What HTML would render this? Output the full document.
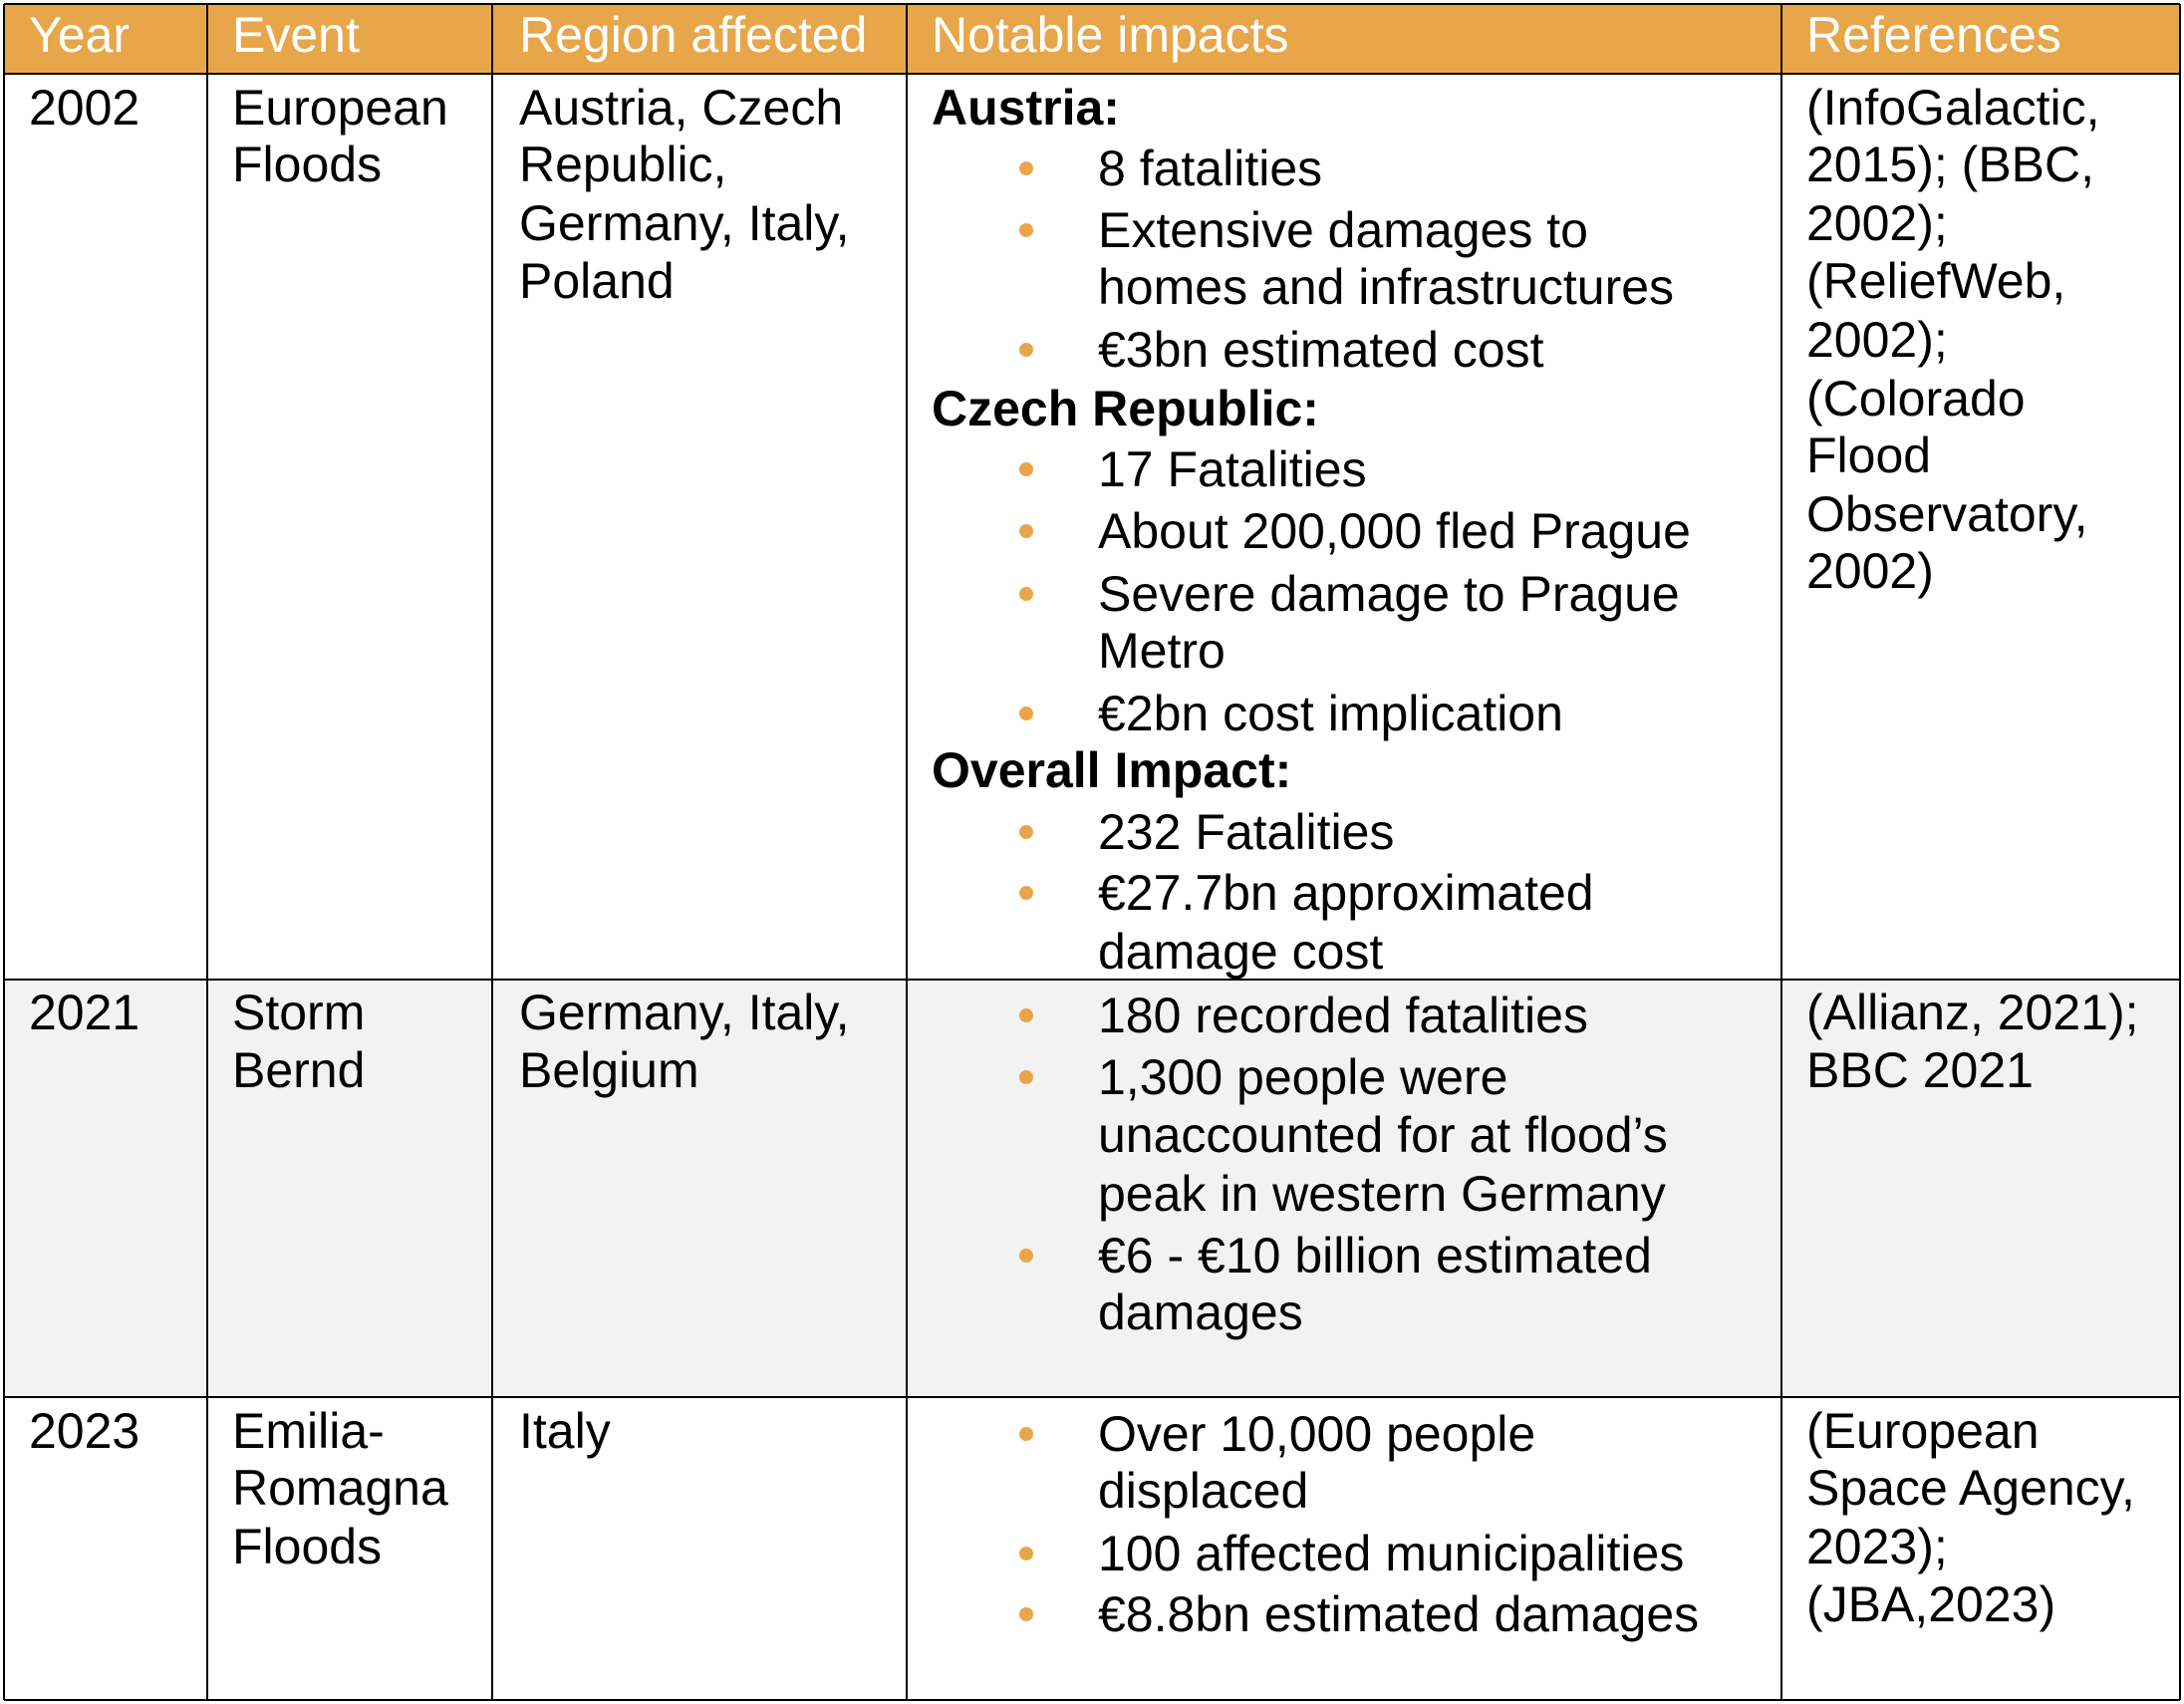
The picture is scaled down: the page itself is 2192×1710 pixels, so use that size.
<!DOCTYPE html>
<html><head><meta charset="utf-8"><style>
body{margin:0;width:2192px;height:1710px;background:#fff;position:relative;overflow:hidden;font-family:"Liberation Sans",Arial,sans-serif;font-size:50px;color:#000}
.l{position:absolute;line-height:58px;white-space:nowrap}
.b{font-weight:bold}
.h{color:#fff}
.d{position:absolute;width:14px;height:14px;border-radius:50%;background:#E8A64A}
.hl{position:absolute;left:4px;width:2184px;height:2px;background:#000}
.vl{position:absolute;top:4px;height:1702px;width:2px;background:#000}
</style></head><body>
<div style="position:absolute;left:4px;top:4px;width:2184px;height:70px;background:#E8A64A"></div>
<div style="position:absolute;left:4px;top:983px;width:2184px;height:419px;background:#F2F2F2"></div>
<div class="hl" style="top:3px"></div>
<div class="hl" style="top:73px"></div>
<div class="hl" style="top:982px"></div>
<div class="hl" style="top:1401px"></div>
<div class="hl" style="top:1705px"></div>
<div class="vl" style="left:3px"></div>
<div class="vl" style="left:207px"></div>
<div class="vl" style="left:493px"></div>
<div class="vl" style="left:909px"></div>
<div class="vl" style="left:1787px"></div>
<div class="vl" style="left:2187px"></div>

<div class="l h" style="left:29px;top:6px">Year</div>
<div class="l h" style="left:233px;top:6px">Event</div>
<div class="l h" style="left:521px;top:6px">Region affected</div>
<div class="l h" style="left:935px;top:6px">Notable impacts</div>
<div class="l h" style="left:1813px;top:6px">References</div>

<div class="l" style="left:29px;top:79px">2002</div>
<div class="l" style="left:233px;top:79px">European</div>
<div class="l" style="left:233px;top:136px">Floods</div>
<div class="l" style="left:521px;top:79px">Austria, Czech</div>
<div class="l" style="left:521px;top:136px">Republic,</div>
<div class="l" style="left:521px;top:195px">Germany, Italy,</div>
<div class="l" style="left:521px;top:253px">Poland</div>
<div class="l" style="left:1813px;top:79px">(InfoGalactic,</div>
<div class="l" style="left:1813px;top:136px">2015); (BBC,</div>
<div class="l" style="left:1813px;top:195px">2002);</div>
<div class="l" style="left:1813px;top:253px">(ReliefWeb,</div>
<div class="l" style="left:1813px;top:312px">2002);</div>
<div class="l" style="left:1813px;top:371px">(Colorado</div>
<div class="l" style="left:1813px;top:428px">Flood</div>
<div class="l" style="left:1813px;top:487px">Observatory,</div>
<div class="l" style="left:1813px;top:544px">2002)</div>

<div class="l b" style="left:935px;top:79px">Austria:</div>
<div class="d" style="left:1023px;top:162px"></div><div class="l" style="left:1102px;top:140px">8 fatalities</div>
<div class="d" style="left:1023px;top:224px"></div><div class="l" style="left:1102px;top:202px">Extensive damages to</div>
<div class="l" style="left:1102px;top:259px">homes and infrastructures</div>
<div class="d" style="left:1023px;top:344px"></div><div class="l" style="left:1102px;top:322px">€3bn estimated cost</div>
<div class="l b" style="left:935px;top:381px">Czech Republic:</div>
<div class="d" style="left:1023px;top:464px"></div><div class="l" style="left:1102px;top:442px">17 Fatalities</div>
<div class="d" style="left:1023px;top:526px"></div><div class="l" style="left:1102px;top:504px">About 200,000 fled Prague</div>
<div class="d" style="left:1023px;top:589px"></div><div class="l" style="left:1102px;top:567px">Severe damage to Prague</div>
<div class="l" style="left:1102px;top:624px">Metro</div>
<div class="d" style="left:1023px;top:709px"></div><div class="l" style="left:1102px;top:687px">€2bn cost implication</div>
<div class="l b" style="left:935px;top:744px">Overall Impact:</div>
<div class="d" style="left:1023px;top:828px"></div><div class="l" style="left:1102px;top:806px">232 Fatalities</div>
<div class="d" style="left:1023px;top:889px"></div><div class="l" style="left:1102px;top:867px">€27.7bn approximated</div>
<div class="l" style="left:1102px;top:926px">damage cost</div>

<div class="l" style="left:29px;top:987px">2021</div>
<div class="l" style="left:233px;top:987px">Storm</div>
<div class="l" style="left:233px;top:1045px">Bernd</div>
<div class="l" style="left:521px;top:987px">Germany, Italy,</div>
<div class="l" style="left:521px;top:1045px">Belgium</div>
<div class="l" style="left:1813px;top:987px">(Allianz, 2021);</div>
<div class="l" style="left:1813px;top:1045px">BBC 2021</div>
<div class="d" style="left:1023px;top:1012px"></div><div class="l" style="left:1102px;top:990px">180 recorded fatalities</div>
<div class="d" style="left:1023px;top:1074px"></div><div class="l" style="left:1102px;top:1052px">1,300 people were</div>
<div class="l" style="left:1102px;top:1110px">unaccounted for at flood’s</div>
<div class="l" style="left:1102px;top:1169px">peak in western Germany</div>
<div class="d" style="left:1023px;top:1253px"></div><div class="l" style="left:1102px;top:1231px">€6 - €10 billion estimated</div>
<div class="l" style="left:1102px;top:1288px">damages</div>

<div class="l" style="left:29px;top:1407px">2023</div>
<div class="l" style="left:233px;top:1407px">Emilia-</div>
<div class="l" style="left:233px;top:1464px">Romagna</div>
<div class="l" style="left:233px;top:1523px">Floods</div>
<div class="l" style="left:521px;top:1407px">Italy</div>
<div class="l" style="left:1813px;top:1407px">(European</div>
<div class="l" style="left:1813px;top:1464px">Space Agency,</div>
<div class="l" style="left:1813px;top:1523px">2023);</div>
<div class="l" style="left:1813px;top:1581px">(JBA,2023)</div>
<div class="d" style="left:1023px;top:1432px"></div><div class="l" style="left:1102px;top:1410px">Over 10,000 people</div>
<div class="l" style="left:1102px;top:1467px">displaced</div>
<div class="d" style="left:1023px;top:1552px"></div><div class="l" style="left:1102px;top:1530px">100 affected municipalities</div>
<div class="d" style="left:1023px;top:1613px"></div><div class="l" style="left:1102px;top:1591px">€8.8bn estimated damages</div>
</body></html>
